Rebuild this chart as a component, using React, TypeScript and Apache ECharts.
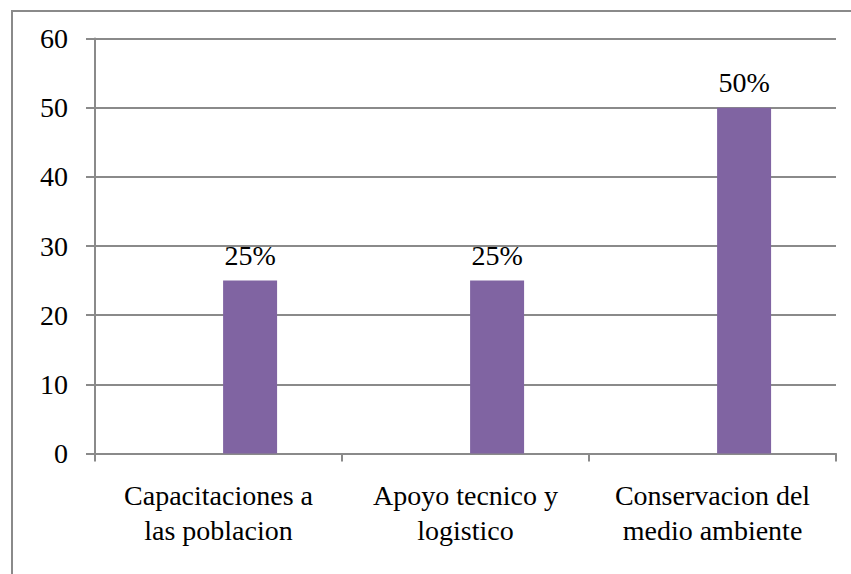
import React, { useEffect, useRef } from "react";
import * as echarts from "echarts";

const categories = ["Capacitaciones a\nlas poblacion", "Apoyo tecnico y\nlogistico", "Conservacion del\nmedio ambiente"];
const values = [25, 25, 50];
const valueLabels = ["25%", "25%", "50%"];
const emptySeries = [null, null, null];

export default function App() {
  const ref = useRef<HTMLDivElement>(null);
  useEffect(() => {
    const chart = echarts.init(ref.current!, null, { renderer: "svg" });
    const font = "Liberation Serif";
    const gray = "#8a8a8a";
    chart.setOption({
      animation: false,
      backgroundColor: "#ffffff",
      textStyle: { fontFamily: font },
      grid: { left: 95, right: 15, top: 38.5, bottom: 120.5, containLabel: false },
      graphic: [
        {
          type: "rect",
          shape: { x: 12, y: 11, width: 860, height: 620 },
          style: { fill: "none", stroke: gray, lineWidth: 2 },
          silent: true,
        },
      ],
      xAxis: {
        type: "category",
        data: categories,
        axisLine: { show: true, lineStyle: { color: gray, width: 2 } },
        axisTick: { show: true, length: 8, alignWithLabel: false, lineStyle: { color: gray, width: 2 } },
        axisLabel: { color: "#000", fontFamily: font, fontSize: 28, lineHeight: 35, margin: 24, interval: 0 },
        splitLine: { show: false },
      },
      yAxis: {
        type: "value",
        min: 0,
        max: 60,
        interval: 10,
        axisLine: { show: true, lineStyle: { color: gray, width: 2 } },
        axisTick: { show: true, length: 9, lineStyle: { color: gray, width: 2 } },
        axisLabel: { color: "#000", fontFamily: font, fontSize: 28, margin: 27 },
        splitLine: { show: true, lineStyle: { color: gray, width: 2 } },
      },
      series: [
        {
          type: "bar",
          data: emptySeries,
          barWidth: 54,
          barGap: "17%",
          itemStyle: { color: "transparent" },
        },
        {
          type: "bar",
          data: values,
          barWidth: 54,
          barGap: "17%",
          itemStyle: { color: "#8064A2" },
          label: {
            show: true,
            position: "top",
            distance: 11,
            color: "#000",
            fontFamily: font,
            fontSize: 28,
            formatter: (p: any) => valueLabels[p.dataIndex],
          },
        },
      ],
    });
    return () => chart.dispose();
  }, []);
  return (
    <div style={{ position: "fixed", left: 0, top: 0, width: 851, height: 574 }}>
      <span
        aria-hidden="true"
        style={{ position: "absolute", left: 300, top: 200, fontFamily: "Liberation Serif", fontSize: 28, color: "#fff", zIndex: 0 }}
      >
        %
      </span>
      <div
        ref={ref}
        style={{ position: "absolute", left: 0, top: 0, width: 851, height: 574, zIndex: 1 }}
      />
    </div>
  );
}
